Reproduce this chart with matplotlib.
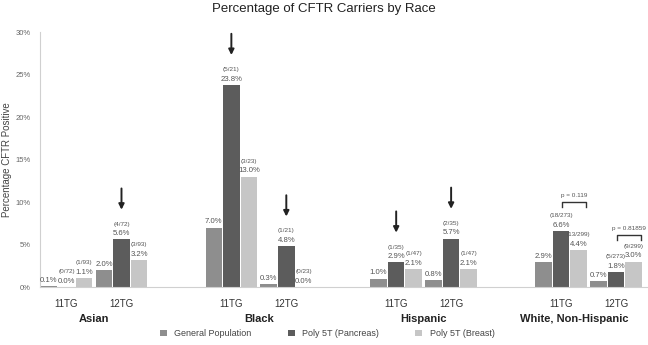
import numpy as np
import matplotlib.pyplot as plt

plt.rcParams['font.family'] = ['Liberation Sans', 'DejaVu Sans']

# data
races = ['Asian', 'Black', 'Hispanic', 'White, Non-Hispanic']
subgroups = ['11TG', '12TG']
series = ['General Population', 'Poly 5T (Pancreas)', 'Poly 5T (Breast)']
# values per race, per subgroup (11TG, 12TG)
gen_pop = [[0.1, 2.0], [7.0, 0.3], [1.0, 0.8], [2.9, 0.7]]
pancreas = [[0.0, 5.6], [23.8, 4.8], [2.9, 5.7], [6.6, 1.8]]
breast = [[1.1, 3.2], [13.0, 0.0], [2.1, 2.1], [4.4, 3.0]]
pancreas_n = [['(0/72)', '(4/72)'], ['(5/21)', '(1/21)'], ['(1/35)', '(2/35)'], ['(18/273)', '(5/273)']]
breast_n = [['(1/93)', '(3/93)'], ['(3/23)', '(0/23)'], ['(1/47)', '(1/47)'], ['(13/299)', '(9/299)']]
# arrows point at these (race, subgroup) pancreas bars
arrows = [(0, 1), (1, 0), (1, 1), (2, 0), (2, 1)]
pvals = ['p = 0.119', 'p = 0.81859']

colors = ['#8e8e8e', '#5c5c5c', '#c6c6c6']
txt = '#555555'

fig = plt.figure(figsize=(6.48, 3.45), dpi=100)
ax = fig.add_axes([0.062, 0.168, 0.936, 0.739])

group_step = 9.375
sub_step = 3.125
width = 0.94

def center(r, s):
    return r * group_step + s * sub_step

for r in range(len(races)):
    for s in range(2):
        c = center(r, s)
        vals = [gen_pop[r][s], pancreas[r][s], breast[r][s]]
        counts = [None, pancreas_n[r][s], breast_n[r][s]]
        for k in range(3):
            x = c + (k - 1)
            ax.bar(x, vals[k], width=width, color=colors[k],
                   label=series[k] if (r == 0 and s == 0) else None)
            ax.text(x, vals[k] + 0.25, f'{vals[k]:.1f}%', ha='center', va='bottom',
                    fontsize=5.6, color=txt)
            if counts[k]:
                ax.text(x, vals[k] + 1.5, counts[k], ha='center', va='bottom',
                        fontsize=4.6, color=txt)
        ax.text(c, -0.045, subgroups[s], transform=ax.get_xaxis_transform(),
                ha='center', va='top', fontsize=7, color='#333333')
    # last label is pulled left in the original so it fits
    xr = center(r, 0.5) - (0.8 if r == len(races) - 1 else 0)
    ax.text(xr, -0.105, races[r], transform=ax.get_xaxis_transform(),
            ha='center', va='top', fontsize=8, fontweight='bold', color='#222222')

# arrows
for r, s in arrows:
    x = center(r, s)
    top = pancreas[r][s]
    ax.annotate('', xy=(x, top + 3.5), xytext=(x, top + 6.0),
                arrowprops=dict(arrowstyle='-|>', color='#222222', lw=1.4,
                                mutation_scale=8, shrinkA=0, shrinkB=0))

# significance brackets (White, Non-Hispanic)
for s, p in enumerate(pvals):
    x0 = center(3, s) + 0.05
    x1 = center(3, s) + 1.45
    yb = 9.4 if s == 0 else 5.5
    ax.plot([x0, x0, x1, x1], [yb, yb + 0.6, yb + 0.6, yb], color='#333333', lw=1.0)
    ax.text((x0 + x1) / 2, yb + 1.1, p, ha='center', va='bottom', fontsize=4.6, color=txt)

ax.set_ylim(0, 30)
ax.set_xlim(-1.5, 33.0)
ax.set_yticks(np.arange(0, 31, 5))
ax.set_yticklabels([f'{v}%' for v in range(0, 31, 5)], fontsize=5.5, color='#666666')
ax.set_xticks([])
ax.tick_params(axis='y', length=0, pad=7)
for sp in ['top', 'right']:
    ax.spines[sp].set_visible(False)
for sp in ['left', 'bottom']:
    ax.spines[sp].set_color('#d0d0d0')
ax.set_ylabel('Percentage CFTR Positive', fontsize=7, color='#444444', labelpad=2)

fig.suptitle('Percentage of CFTR Carriers by Race', fontsize=9.5, color='#222222', y=0.99)
fig.legend(loc='center', bbox_to_anchor=(0.505, 0.033), ncol=3, frameon=False,
           fontsize=6.5, handlelength=0.8, handleheight=0.8, columnspacing=4.0,
           labelcolor='#444444')

fig.savefig('out.png', dpi=100)
